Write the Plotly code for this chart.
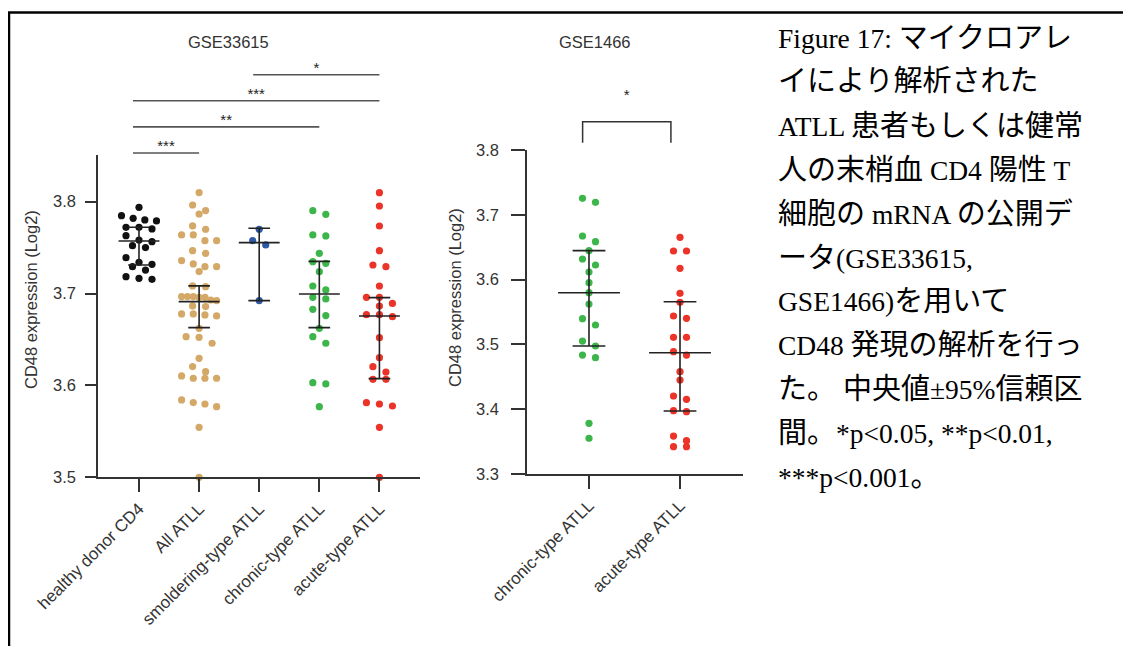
import plotly.graph_objects as go

W, H = 1131, 646

# ---------------- data ----------------
left_title = "GSE33615"
right_title = "GSE1466"
y_title = "CD48 expression (Log2)"

left_categories = ["healthy donor CD4", "All ATLL", "smoldering-type ATLL",
                   "chronic-type ATLL", "acute-type ATLL"]
right_categories = ["chronic-type ATLL", "acute-type ATLL"]

healthy_donor_cd4 = [3.7939, 3.7848, 3.7819, 3.7801, 3.7790, 3.7721, 3.7703, 3.7721,
                     3.7630, 3.7565, 3.7583, 3.7500, 3.7521, 3.7391, 3.7318, 3.7340,
                     3.7293, 3.7256, 3.7155, 3.7184, 3.7166]
all_atll = [3.8099, 3.7964, 3.7903, 3.7866, 3.7736, 3.7700, 3.7638, 3.7638, 3.7576,
            3.7576, 3.7467, 3.7438, 3.7359, 3.7322, 3.7293, 3.7293, 3.7239, 3.7083,
            3.7075, 3.6967, 3.6967, 3.6967, 3.6959, 3.6959, 3.6930, 3.6923, 3.6865,
            3.6858, 3.6778, 3.6778, 3.6767, 3.6756, 3.6622, 3.6531, 3.6524, 3.6459,
            3.6295, 3.6205, 3.6150, 3.6103, 3.6078, 3.6078, 3.6078, 3.5842, 3.5813,
            3.5798, 3.5769, 3.5544, 3.5000]
smoldering_atll = [3.7700, 3.7576, 3.7529, 3.6923]
chronic_atll_33615 = [3.7862, 3.7902, 3.7638, 3.7627, 3.7438, 3.7329, 3.7347, 3.7238,
                      3.7039, 3.7082, 3.6941, 3.6959, 3.6760, 3.6828, 3.6622, 3.6531,
                      3.6459, 3.6030, 3.6016, 3.5769]
acute_atll_33615 = [3.8098, 3.7953, 3.7735, 3.7467, 3.7293, 3.7311, 3.7082, 3.6959,
                    3.6959, 3.6893, 3.6864, 3.6770, 3.6748, 3.6770, 3.6520, 3.6302,
                    3.6204, 3.6146, 3.6066, 3.6066, 3.5798, 3.5812, 3.5776, 3.5544,
                    3.5000]
chronic_atll_1466 = [3.7254, 3.7192, 3.6585, 3.6673, 3.6447, 3.6225, 3.6318, 3.6117,
                     3.5953, 3.5798, 3.5623, 3.5397, 3.5299, 3.5052, 3.4975, 3.4795,
                     3.4836, 3.3782, 3.3550]
acute_atll_1466 = [3.6652, 3.6441, 3.6441, 3.6174, 3.5788, 3.5649, 3.5402, 3.5438,
                   3.5109, 3.5109, 3.4836, 3.4888, 3.4579, 3.4451, 3.4152, 3.4204,
                   3.3962, 3.3977, 3.3422, 3.3514, 3.3586, 3.3422]

left_medians = [3.7572, 3.6912, 3.7554, 3.6995, 3.6756]
left_ci_low = [3.7311, 3.6629, 3.6923, 3.6629, 3.6074]
left_ci_high = [3.7721, 3.7083, 3.7711, 3.7350, 3.6956]
right_medians = [3.5798, 3.4872]
right_ci_low = [3.4975, 3.3972]
right_ci_high = [3.6447, 3.5659]

left_comparisons = [(0, 1, "***"), (0, 3, "**"), (0, 4, "***"), (2, 4, "*")]
right_comparisons = [(0, 1, "*")]

left_yticks = [3.5, 3.6, 3.7, 3.8]
right_yticks = [3.3, 3.4, 3.5, 3.6, 3.7, 3.8]

caption_lines = [
    "Figure 17: マイクロアレ",
    "イにより解析された",
    "ATLL 患者もしくは健常",
    "人の末梢血 CD4 陽性 T",
    "細胞の mRNA の公開デ",
    "ータ(GSE33615,",
    "GSE1466)を用いて",
    "CD48 発現の解析を行っ",
    "た。 中央値±95%信頼区",
    "間。*p<0.05, **p<0.01,",
    "***p<0.001。",
]

# ---------------- styles ----------------
left_colors = ["#111111", "#D4A867", "#2D5AA6", "#3CB64B", "#EB3327"]
right_colors = ["#3CB64B", "#EB3327"]
AX = "#333333"
LINE = "#222222"
FONT = "Liberation Sans, Arial, sans-serif"
CAP_FONT = "Liberation Serif, 'Noto Sans CJK JP', serif"
OFF = 8  # page body margin of the html page


def px_x(px):
    return (px - OFF) / W


def px_y(py):
    return 1 - (py - OFF) / H


LEFT_XD = [px_x(98), px_x(420)]
LEFT_XR = [-0.682, 4.675]
LEFT_YD = [px_y(477.3), px_y(155)]
LEFT_YR = [3.5, 3.8508]
RIGHT_XD = [px_x(527), px_x(743)]
RIGHT_XR = [-0.681, 1.692]
RIGHT_YD = [px_y(474), px_y(150)]
RIGHT_YR = [3.3, 3.8]


def scale(dom, rng, total):
    return (dom[1] - dom[0]) * total / (rng[1] - rng[0])


def swarm(values, xs, ys, row_h=7.0, max_step=13.0, row_w=35.0):
    order = sorted(range(len(values)), key=lambda i: -values[i])
    rows, cur = [], []
    for i in order:
        if cur and (values[cur[0]] - values[i]) * ys > row_h:
            rows.append(cur)
            cur = []
        cur.append(i)
    if cur:
        rows.append(cur)
    off = [0.0] * len(values)
    for row in rows:
        n = len(row)
        if n == 1:
            continue
        step = min(max_step, row_w / (n - 1))
        for k, i in enumerate(row):
            off[i] = (k - (n - 1) / 2) * step / xs
    return off


fig = go.Figure()


def add_panel(groups, colors, medians, lo, hi, xa, ya, xs, ys):
    for i, (vals, col) in enumerate(zip(groups, colors)):
        off = swarm(vals, xs, ys)
        fig.add_trace(go.Scatter(
            x=[i + o for o in off], y=vals, mode="markers",
            marker=dict(size=7.2, color=col, line=dict(width=0)),
            cliponaxis=False, xaxis=xa, yaxis=ya, hoverinfo="y"))
    mw, cw = 0.34, 0.18
    lx, ly = [], []
    for i, (m, l, h) in enumerate(zip(medians, lo, hi)):
        lx += [i - mw, i + mw, None, i, i, None, i - cw, i + cw, None, i - cw, i + cw, None]
        ly += [m, m, None, l, h, None, l, l, None, h, h, None]
    fig.add_trace(go.Scatter(x=lx, y=ly, mode="lines",
                             line=dict(color=LINE, width=1.6),
                             xaxis=xa, yaxis=ya, hoverinfo="skip"))


add_panel([healthy_donor_cd4, all_atll, smoldering_atll, chronic_atll_33615, acute_atll_33615],
          left_colors, left_medians, left_ci_low, left_ci_high, "x", "y",
          scale(LEFT_XD, LEFT_XR, W), scale(LEFT_YD, LEFT_YR, H))
add_panel([chronic_atll_1466, acute_atll_1466],
          right_colors, right_medians, right_ci_low, right_ci_high, "x2", "y2",
          scale(RIGHT_XD, RIGHT_XR, W), scale(RIGHT_YD, RIGHT_YR, H))

STAR_FONT = dict(size=15, color="#222222", family=FONT)

# significance bars (left panel) on an overlay axis
for lvl, (a, b, lab) in enumerate(left_comparisons):
    x0, x1 = a - 0.1, b
    fig.add_trace(go.Scatter(x=[x0, x1], y=[lvl, lvl], mode="lines",
                             line=dict(color="#555555", width=1.6),
                             xaxis="x3", yaxis="y3", hoverinfo="skip"))
    fig.add_trace(go.Scatter(x=[(x0 + x1) / 2], y=[lvl + 0.22], mode="text", text=[lab],
                             textfont=STAR_FONT,
                             textposition="middle center", cliponaxis=False,
                             xaxis="x3", yaxis="y3", hoverinfo="skip"))

# bracket (right panel)
for a, b, lab in right_comparisons:
    x0, x1 = a - 0.07, b - 0.1
    fig.add_trace(go.Scatter(x=[x0, x0, x1, x1], y=[0, 1, 1, 0], mode="lines",
                             line=dict(color="#333333", width=1.5),
                             xaxis="x4", yaxis="y4", hoverinfo="skip"))
    fig.add_trace(go.Scatter(x=[(x0 + x1) / 2], y=[2.2], mode="text", text=[lab],
                             textfont=STAR_FONT,
                             textposition="middle center", cliponaxis=False,
                             xaxis="x4", yaxis="y4", hoverinfo="skip"))

tickfont = dict(family=FONT, size=16.5, color=AX)
xtickfont = dict(family=FONT, size=17, color=AX)
xcommon = dict(showline=True, linecolor=AX, linewidth=1.6, ticks="outside", ticklen=13,
               tickwidth=1.6, tickcolor=AX, tickangle=-45, tickfont=xtickfont,
               showgrid=False, zeroline=False, fixedrange=True, automargin=False)
ycommon = dict(showline=True, linecolor=AX, linewidth=1.6, ticks="outside",
               tickwidth=1.6, tickcolor=AX, tickfont=tickfont, showgrid=False,
               zeroline=False, fixedrange=True, automargin=False)
hidden = dict(visible=False, fixedrange=True, automargin=False, showgrid=False, zeroline=False)


def mixed(line, cjk_size=29):
    runs, cur, kind = [], "", None
    for ch in line:
        c = ord(ch) >= 0x3000
        if kind is None or c == kind:
            cur += ch
        else:
            runs.append((kind, cur))
            cur = ch
        kind = c
    runs.append((kind, cur))
    return "".join(f'<span style="font-size:{cjk_size}px">{r}</span>' if k else r
                   for k, r in runs)


annotations = [
    dict(text=left_title, x=px_x(228), y=px_y(42), xref="paper", yref="paper",
         xanchor="center", yanchor="middle",
         showarrow=False, font=dict(family=FONT, size=16.5, color=AX)),
    dict(text=right_title, x=px_x(595), y=px_y(42), xref="paper", yref="paper",
         xanchor="center", yanchor="middle",
         showarrow=False, font=dict(family=FONT, size=16.5, color=AX)),
    dict(text=y_title, x=px_x(31), y=px_y(300), xref="paper", yref="paper",
         xanchor="center", yanchor="middle",
         textangle=-90, showarrow=False, font=dict(family=FONT, size=16.5, color=AX)),
    dict(text=y_title, x=px_x(455), y=px_y(298), xref="paper", yref="paper",
         xanchor="center", yanchor="middle",
         textangle=-90, showarrow=False, font=dict(family=FONT, size=16.5, color=AX)),
]
cap_y = [38, 81, 126, 170, 214, 258, 301, 345, 389, 433, 477]
for line, cy in zip(caption_lines, cap_y):
    annotations.append(dict(text=mixed(line), x=px_x(776), y=px_y(cy), xref="paper", yref="paper",
                            xanchor="left", yanchor="middle", showarrow=False,
                            font=dict(family=CAP_FONT, size=27.5, color="#000000")))

fig.update_layout(
    template="none",
    width=W, height=H,
    margin=dict(l=0, r=0, t=0, b=0, pad=0, autoexpand=False),
    paper_bgcolor="white", plot_bgcolor="rgba(0,0,0,0)",
    showlegend=False,
    xaxis=dict(domain=LEFT_XD, range=LEFT_XR, anchor="y",
               tickvals=list(range(len(left_categories))), ticktext=left_categories, **xcommon),
    yaxis=dict(domain=LEFT_YD, range=LEFT_YR, anchor="x", tickvals=left_yticks,
               ticktext=[f"{v:.1f}" for v in left_yticks], ticklen=11,
               ticklabelstandoff=6, **ycommon),
    xaxis2=dict(domain=RIGHT_XD, range=RIGHT_XR, anchor="y2",
                tickvals=list(range(len(right_categories))), ticktext=right_categories, **xcommon),
    yaxis2=dict(domain=RIGHT_YD, range=RIGHT_YR, anchor="x2", tickvals=right_yticks,
                ticktext=[f"{v:.1f}" for v in right_yticks], ticklen=14,
                ticklabelstandoff=9, **ycommon),
    xaxis3=dict(domain=LEFT_XD, range=LEFT_XR, anchor="y3", **hidden),
    yaxis3=dict(domain=[px_y(160), px_y(50)], range=[-0.268, 3.946], anchor="x3", **hidden),
    xaxis4=dict(domain=RIGHT_XD, range=RIGHT_XR, anchor="y4", **hidden),
    yaxis4=dict(domain=[px_y(150), px_y(80)], range=[-0.348, 2.986], anchor="x4", **hidden),
    annotations=annotations,
    shapes=[
        dict(type="line", xref="paper", yref="paper", x0=px_x(8), x1=1, y0=px_y(12.5), y1=px_y(12.5),
             line=dict(color="#000000", width=2.5)),
        dict(type="line", xref="paper", yref="paper", x0=px_x(9), x1=px_x(9), y0=px_y(12), y1=0,
             line=dict(color="#000000", width=2.5)),
    ],
)

fig.write_html("out.html")
